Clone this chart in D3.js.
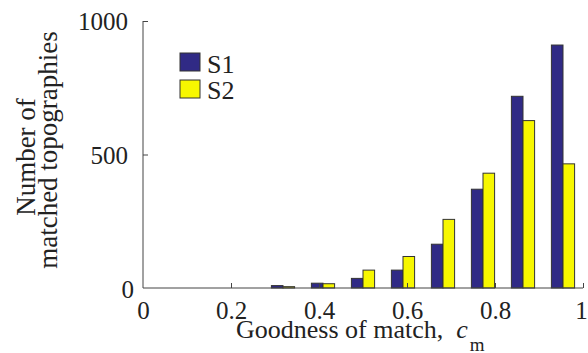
<!DOCTYPE html>
<html>
<head>
<meta charset="utf-8">
<script src="https://cdn.jsdelivr.net/npm/d3@7/dist/d3.min.js"></script>
<style>
  html, body { margin: 0; padding: 0; background: #fff; }
  svg { display: block; }
  svg text { font-family: "Liberation Serif", Tinos, "DejaVu Serif", "Times New Roman", Times, serif; fill: #222; }
</style>
</head>
<body>
<svg id="chart" width="588" height="353"></svg>
<script>
// Histogram of match quality, 11 bins over [0, 1]
const binCenters = [0.5, 1.5, 2.5, 3.5, 4.5, 5.5, 6.5, 7.5, 8.5, 9.5, 10.5].map(k => k / 11);
const seriesNames = ["S1", "S2"];
const s1Counts = [0, 0, 0, 9, 18, 36, 67, 164, 370, 718, 910];
const s2Counts = [0, 0, 0, 5, 16, 67, 118, 257, 430, 627, 465];
const xTicks = [0, 0.2, 0.4, 0.6, 0.8, 1];
const yTicks = [0, 500, 1000];
const colors = ["#302a85", "#f7f700"];
const serif = "'Liberation Serif', Tinos, 'DejaVu Serif', 'Times New Roman', Times, serif";

const svg = d3.select("#chart");
const x = d3.scaleLinear().domain([0, 1]).range([143, 583]);
const y = d3.scaleLinear().domain([0, 1000]).range([288, 21]);

const binWidth = x(1 / 11) - x(0);
const barW = binWidth * 0.29;

// Bars
const series = [s1Counts, s2Counts];
series.forEach((vals, si) => {
  svg.append("g").selectAll("rect")
    .data(vals.map((v, i) => ({ c: binCenters[i], v })))
    .join("rect")
    .attr("x", d => x(d.c) - barW + si * barW)
    .attr("width", barW)
    .attr("y", d => y(d.v))
    .attr("height", d => y(0) - y(d.v))
    .attr("fill", colors[si])
    .attr("stroke", "#333")
    .attr("stroke-width", 1);
});

// Axes with inward ticks
const xAxis = d3.axisBottom(x).tickValues(xTicks).tickSize(-5).tickPadding(0).tickFormat(d3.format("~g"));
const gx = svg.append("g").attr("transform", `translate(0,${y(0)})`).call(xAxis)
  .attr("font-family", serif).attr("font-size", 25);
gx.select(".domain").attr("stroke", "#444").attr("d", `M${x(0)},0H${x(1)}`);
gx.selectAll(".tick line").attr("stroke", "#444");
gx.selectAll(".tick text").attr("dy", null).attr("y", 31).attr("fill", "#222");
gx.selectAll(".tick").filter(d => d === 1).select("text").attr("x", -2);

const yAxis = d3.axisLeft(y).tickValues(yTicks).tickSize(-5).tickPadding(0).tickFormat(d3.format("d"));
const gy = svg.append("g").attr("transform", `translate(${x(0)},0)`).call(yAxis)
  .attr("font-family", serif).attr("font-size", 25);
gy.select(".domain").attr("stroke", "#444").attr("d", `M0,${y(0)}V${y(1000)}`);
gy.selectAll(".tick line").attr("stroke", "#444");
gy.selectAll(".tick text").attr("x", -15).attr("dy", "0.35em").attr("fill", "#222");
gy.selectAll(".tick").filter(d => d === 0).select("text").attr("x", -9).attr("y", 1);
svg.selectAll(".tick").filter(d => d === 0).select("line").remove();

// Axis titles
const xl = svg.append("text").attr("x", 236).attr("y", 338).attr("font-size", 26);
xl.append("tspan").text("Goodness of match,\u00a0\u00a0");
xl.append("tspan").attr("font-style", "italic").text("c");
xl.append("tspan").attr("font-size", 19).attr("dy", 13).attr("dx", 2).text("m");

const yl = svg.append("g").attr("font-size", 27).attr("text-anchor", "middle");
yl.append("text").attr("transform", "translate(35,157) rotate(-90)").text("Number of");
yl.append("text").attr("transform", "translate(57,150) rotate(-90)").text("matched topographies");

// Legend
const lg = svg.append("g").attr("transform", "translate(180,53)");
seriesNames.forEach((n, i) => {
  lg.append("rect").attr("x", 0).attr("y", i * 27).attr("width", 20).attr("height", 18)
    .attr("fill", colors[i]).attr("stroke", "#333");
  lg.append("text").attr("x", 27).attr("y", i * 26 + 20).attr("font-size", 26).text(n);
});
</script>
</body>
</html>
